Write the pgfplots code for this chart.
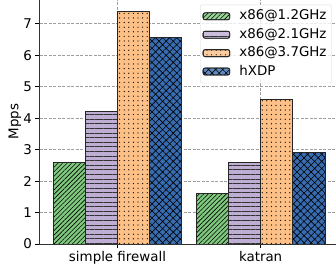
\documentclass[border=0pt]{standalone}
\usepackage{pgfplots}
\pgfplotsset{compat=1.18}
\usepackage{fontspec}
\setmainfont{DejaVu Sans}
\usetikzlibrary{patterns.meta}
\definecolor{cA}{HTML}{7FC97F}
\definecolor{cB}{HTML}{BEAED4}
\definecolor{cC}{HTML}{FDC086}
\definecolor{cD}{HTML}{386CB0}
\begin{document}
\begin{tikzpicture}
\clip (0,0) rectangle (336bp,271bp);
\begin{axis}[
  at={(39.5bp,27bp)}, anchor=south west,
  scale only axis, width=299.1bp, height=244.5bp,
  xmin=-0.545, xmax=1.545, ymin=0, ymax=7.77,
  xtick={0,1}, xticklabels={simple firewall, katran},
  ytick={0,1,2,3,4,5,6,7},
  tick pos=left, tick align=outside, major tick length=4bp,
  every tick/.style={black, line width=0.8bp},
  axis line style={black!80, line width=0.8bp},
  /pgf/number format/assume math mode=true,
  ticklabel style={font=\fontsize{13.4bp}{16bp}\selectfont},
  label style={font=\fontsize{13.4bp}{16bp}\selectfont},
  ylabel={Mpps},
  ylabel style={at={(axis description cs:-0.0819,0.5)}, anchor=center},
  grid=major,
  major grid style={gray!75, dash pattern=on 3bp off 1.5bp, line width=0.6bp},
  ybar, bar width=0.225,
  legend cell align=left,
  legend style={at={(rel axis cs:0.977,0.979)}, anchor=north east,
    font=\fontsize{13.4bp}{16bp}\selectfont,
    draw=gray!30, rounded corners=2bp, fill=white, fill opacity=0.8, text opacity=1,
    inner xsep=2.5bp, inner ysep=2.5bp, row sep=0.4bp, column sep=6.7bp,
    nodes={inner sep=2.5bp, text height=10bp, text depth=3bp}},
  legend image code/.code={\draw[#1] (0bp,-3.5bp) rectangle (26.6bp,3.5bp);},
]
\addplot[bar shift=-0.3375, fill=cA, draw=black!85, line width=0.8bp,
  postaction={pattern={Lines[angle=45,distance=3.2bp,line width=0.6bp]}, pattern color=black}]
  coordinates {(0,2.6) (1,1.6)};
\addplot[bar shift=-0.1125, fill=cB, draw=black!85, line width=0.8bp,
  postaction={pattern={Lines[angle=0,distance=4.6bp,line width=0.6bp]}, pattern color=black!80}]
  coordinates {(0,4.2) (1,2.6)};
\addplot[bar shift=0.1125, fill=cC, draw=black!85, line width=0.8bp,
  postaction={pattern={Dots[distance=4.6bp,radius=0.65bp]}, pattern color=black}]
  coordinates {(0,7.4) (1,4.6)};
\addplot[bar shift=0.3375, fill=cD, draw=black!85, line width=0.8bp,
  postaction={pattern={Hatch[angle=45,distance=5bp,line width=0.6bp]}, pattern color=black}]
  coordinates {(0,6.55) (1,2.9)};
\legend{x86@1.2GHz, x86@2.1GHz, x86@3.7GHz, hXDP}
\end{axis}
\end{tikzpicture}
\end{document}
